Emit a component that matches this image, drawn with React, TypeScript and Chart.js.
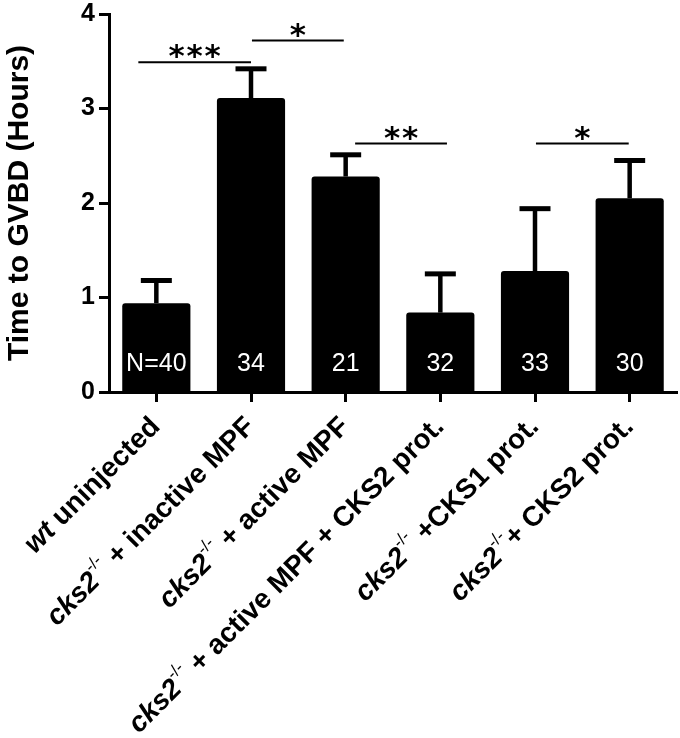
import React, { useEffect, useRef } from "react";
import { Chart, registerables } from "chart.js";

Chart.register(...registerables);

// ---- data ----
const categories = [
  "wt uninjected",
  "cks2-/- + inactive MPF",
  "cks2-/- + active MPF",
  "cks2-/- + active MPF + CKS2 prot.",
  "cks2-/- +CKS1 prot.",
  "cks2-/-+ CKS2 prot.",
];
// rich label segments: style i = italic bold, s = superscript, n = bold
const labelSegments: Array<Array<[string, string]>> = [
  [["wt", "i"], [" uninjected", "n"]],
  [["cks2", "i"], ["-/-", "s"], [" + inactive MPF", "n"]],
  [["cks2", "i"], ["-/-", "s"], [" + active MPF", "n"]],
  [["cks2", "i"], ["-/-", "s"], [" + active MPF + CKS2 prot.", "n"]],
  [["cks2", "i"], ["-/-", "s"], [" +CKS1 prot.", "n"]],
  [["cks2", "i"], ["-/-", "s"], ["+ CKS2 prot.", "n"]],
];
const means = [0.94, 3.11, 2.28, 0.84, 1.28, 2.05];
const sem = [0.24, 0.31, 0.23, 0.41, 0.66, 0.4];
const nLabels = ["N=40", "34", "21", "32", "33", "30"];
const sigFrom = [-0.19, 1.01, 2.1, 4.01];
const sigTo = [1.0, 1.98, 3.07, 4.99];
const sigY = [3.49, 3.72, 2.63, 2.63];
const sigStars = [3, 1, 2, 1];
const yMin = 0;
const yMax = 4;
const yStep = 1;
const yTitle = "Time to GVBD (Hours)";

const FONT = "'Liberation Sans', Arial, sans-serif";

const overlayPlugin = {
  id: "overlay",
  afterDatasetsDraw(chart: any) {
    const ctx = chart.ctx;
    const xs = chart.scales.x;
    const ys = chart.scales.y;
    const meta = chart.getDatasetMeta(0);
    ctx.save();
    // error bars
    ctx.strokeStyle = "#000";
    meta.data.forEach((el: any, i: number) => {
      const x = el.x;
      const yTop = ys.getPixelForValue(means[i] + sem[i]);
      ctx.lineWidth = 4.5;
      ctx.beginPath();
      ctx.moveTo(x, el.y);
      ctx.lineTo(x, yTop);
      ctx.stroke();
      ctx.lineWidth = 5;
      ctx.beginPath();
      ctx.moveTo(x - 15.5, yTop);
      ctx.lineTo(x + 15.5, yTop);
      ctx.stroke();
    });
    // N labels
    ctx.fillStyle = "#fff";
    ctx.font = `25px ${FONT}`;
    ctx.textAlign = "center";
    ctx.textBaseline = "alphabetic";
    meta.data.forEach((el: any, i: number) => {
      ctx.fillText(nLabels[i], el.x, ys.getPixelForValue(0) - 21);
    });
    // significance brackets
    ctx.strokeStyle = "#000";
    ctx.fillStyle = "#000";
    ctx.lineWidth = 2;
    ctx.font = `bold 31px 'DejaVu Sans', sans-serif`;
    ctx.textAlign = "center";
    ctx.textBaseline = "middle";
    sigFrom.forEach((f, i) => {
      const x1 = xs.getPixelForValue(f);
      const x2 = xs.getPixelForValue(sigTo[i]);
      const y = ys.getPixelForValue(sigY[i]);
      ctx.beginPath();
      ctx.moveTo(x1, y);
      ctx.lineTo(x2, y);
      ctx.stroke();
      const n = sigStars[i];
      const gap = 18;
      const cx = (x1 + x2) / 2;
      for (let k = 0; k < n; k++) {
        const sx = cx + (k - (n - 1) / 2) * gap;
        ctx.fillText("*", sx, y - 4);
      }
    });
    // rotated rich x labels
    const axisY = xs.top;
    labelSegments.forEach((segs, i) => {
      const tx = xs.getPixelForValue(i);
      const fontFor = (st: string) =>
        st === "i"
          ? `italic bold 28px ${FONT}`
          : st === "s"
          ? `17px ${FONT}`
          : `bold 28px ${FONT}`;
      let total = 0;
      const widths = segs.map(([t, st]) => {
        ctx.font = fontFor(st);
        const w = ctx.measureText(t).width;
        total += w;
        return w;
      });
      ctx.save();
      ctx.translate(tx + 5, axisY + 36);
      ctx.rotate(-Math.PI / 4);
      ctx.textAlign = "left";
      ctx.textBaseline = "alphabetic";
      let x = -total;
      segs.forEach(([t, st], k) => {
        ctx.font = fontFor(st);
        ctx.fillText(t, x, st === "s" ? -14 : 0);
        x += widths[k];
      });
      ctx.restore();
    });
    ctx.restore();
  },
};

export default function App() {
  const ref = useRef<HTMLCanvasElement | null>(null);
  useEffect(() => {
    if (!ref.current) return;
    const chart = new Chart(ref.current, {
      type: "bar",
      data: {
        labels: categories,
        datasets: [
          {
            data: means,
            backgroundColor: "#000",
            borderWidth: 0,
            borderRadius: 3,
            categoryPercentage: 1,
            barPercentage: 0.72,
          },
        ],
      },
      options: {
        responsive: false,
        animation: false,
        devicePixelRatio: 1,
        layout: { padding: { left: 0, right: 3, top: 13, bottom: 0 } },
        plugins: {
          legend: { display: false },
          tooltip: { enabled: false },
        },
        scales: {
          x: {
            offset: true,
            grid: {
              offset: false,
              drawOnChartArea: false,
              drawTicks: true,
              tickLength: 10,
              tickWidth: 3,
              tickColor: "#000",
            },
            border: { display: true, width: 3, color: "#000" },
            ticks: { display: false },
            afterFit: (s: any) => {
              s.height = 346;
            },
          },
          y: {
            min: yMin,
            max: yMax,
            grid: {
              drawOnChartArea: false,
              drawTicks: true,
              tickLength: 10,
              tickWidth: 3,
              tickColor: "#000",
            },
            border: { display: true, width: 3, color: "#000" },
            ticks: {
              stepSize: yStep,
              padding: 4,
              color: "#000",
              font: { family: FONT, size: 25, weight: "bold", lineHeight: 0.8 },
            },
            title: {
              display: true,
              text: yTitle,
              color: "#000",
              font: { family: FONT, size: 30, weight: "bold" },
              padding: { top: 2, bottom: 0 },
            },
            afterFit: (s: any) => {
              s.width = 109;
            },
          },
        },
      },
      plugins: [overlayPlugin],
    });
    return () => chart.destroy();
  }, []);
  return (
    <div style={{ position: "fixed", left: 0, top: 0, width: 680, height: 738, background: "#fff" }}>
      <canvas ref={ref} width={680} height={738} style={{ display: "block" }} />
    </div>
  );
}
